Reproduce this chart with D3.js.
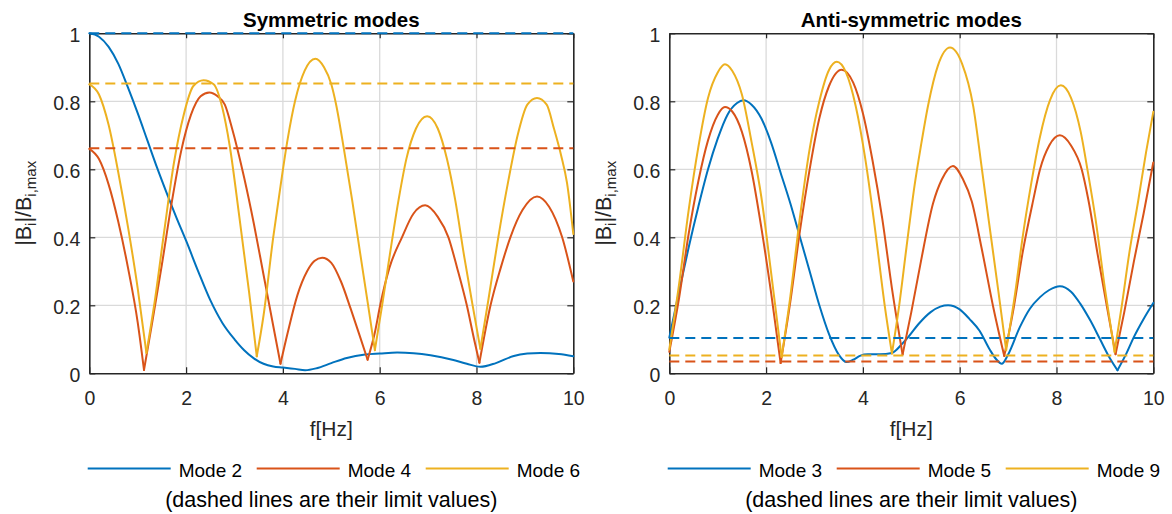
<!DOCTYPE html>
<html>
<head>
<meta charset="utf-8">
<script src="https://cdn.jsdelivr.net/npm/d3@7"></script>
<style>
  html, body { margin: 0; padding: 0; background: #fff; }
  svg { display: block; font-family: "Liberation Sans", Arial, Helvetica, sans-serif; }
</style>
</head>
<body>
<svg id="chart" width="1172" height="514"></svg>
<script>
// ---- Data: normalised amplitude |B_i|/B_i,max versus frequency f [Hz] ----
// Symmetric modes
const mode2 = [[0,1.0],[0.2,0.99],[0.4,0.96],[0.6,0.91],[0.8,0.84],[1.0,0.765],[1.2,0.685],[1.4,0.605],[1.6,0.53],[1.8,0.458],[2.0,0.39],[2.25,0.3],[2.5,0.215],[2.75,0.148],[3.0,0.1],[3.2,0.068],[3.4,0.044],[3.6,0.028],[3.8,0.02],[4.0,0.017],[4.25,0.013],[4.46,0.009],[4.7,0.015],[5.0,0.03],[5.32,0.045],[5.7,0.055],[6.0,0.058],[6.36,0.061],[6.7,0.059],[7.05,0.053],[7.5,0.04],[7.8,0.028],[8.08,0.019],[8.4,0.03],[8.77,0.051],[9.05,0.058],[9.32,0.06],[9.7,0.057],[10,0.05]];
const mode4 = [[0,0.66],[0.2,0.63],[0.4,0.555],[0.6,0.445],[0.8,0.31],[1.0,0.15],[1.13,0.01],[1.3,0.15],[1.5,0.32],[1.7,0.5],[1.9,0.655],[2.1,0.76],[2.3,0.815],[2.48,0.826],[2.65,0.815],[2.8,0.79],[2.95,0.72],[3.06,0.66],[3.2,0.575],[3.4,0.44],[3.6,0.29],[3.8,0.14],[3.95,0.028],[4.1,0.12],[4.3,0.23],[4.5,0.3],[4.65,0.33],[4.81,0.34],[5.0,0.325],[5.2,0.27],[5.4,0.19],[5.6,0.105],[5.75,0.04],[5.9,0.12],[6.01,0.2],[6.2,0.31],[6.46,0.4],[6.7,0.47],[6.94,0.494],[7.2,0.46],[7.42,0.4],[7.6,0.31],[7.8,0.2],[7.95,0.1],[8.06,0.031],[8.29,0.2],[8.5,0.31],[8.7,0.4],[8.95,0.48],[9.25,0.52],[9.5,0.49],[9.77,0.4],[10,0.27]];
const mode6 = [[0,0.85],[0.2,0.82],[0.4,0.73],[0.6,0.59],[0.8,0.43],[1.0,0.25],[1.18,0.06],[1.35,0.21],[1.55,0.42],[1.75,0.62],[1.95,0.76],[2.15,0.845],[2.36,0.862],[2.57,0.85],[2.75,0.78],[2.9,0.67],[3.1,0.46],[3.3,0.24],[3.46,0.05],[3.6,0.17],[3.8,0.4],[3.95,0.55],[4.1,0.69],[4.25,0.8],[4.45,0.89],[4.67,0.925],[4.85,0.9],[5.0,0.85],[5.1,0.79],[5.26,0.66],[5.43,0.51],[5.6,0.35],[5.75,0.21],[5.9,0.068],[6.05,0.2],[6.2,0.34],[6.39,0.51],[6.55,0.63],[6.75,0.72],[6.98,0.756],[7.2,0.72],[7.39,0.63],[7.56,0.51],[7.75,0.34],[7.92,0.2],[8.08,0.072],[8.25,0.22],[8.45,0.4],[8.66,0.568],[8.85,0.7],[9.05,0.79],[9.25,0.81],[9.45,0.79],[9.6,0.72],[9.75,0.64],[9.87,0.56],[10,0.41]];
// Anti-symmetric modes
const mode3 = [[0,0.105],[0.2,0.24],[0.4,0.37],[0.6,0.49],[0.8,0.6],[1.0,0.69],[1.2,0.76],[1.4,0.795],[1.53,0.803],[1.7,0.79],[1.9,0.75],[2.1,0.68],[2.3,0.59],[2.5,0.5],[2.7,0.4],[2.9,0.3],[3.1,0.2],[3.3,0.115],[3.5,0.055],[3.66,0.033],[3.8,0.04],[3.95,0.052],[4.1,0.056],[4.35,0.056],[4.6,0.06],[4.8,0.085],[4.94,0.107],[5.15,0.145],[5.4,0.18],[5.6,0.196],[5.76,0.2],[6.0,0.188],[6.2,0.16],[6.41,0.125],[6.62,0.07],[6.75,0.042],[6.87,0.028],[7.0,0.055],[7.24,0.135],[7.45,0.19],[7.66,0.224],[7.85,0.245],[8.07,0.256],[8.3,0.24],[8.49,0.205],[8.7,0.155],[8.9,0.1],[9.1,0.045],[9.26,0.009],[9.45,0.06],[9.6,0.107],[9.8,0.16],[10,0.207]];
const mode5 = [[0,0.063],[0.2,0.22],[0.4,0.41],[0.6,0.565],[0.8,0.685],[1.0,0.76],[1.15,0.783],[1.3,0.77],[1.5,0.71],[1.7,0.595],[1.9,0.43],[2.1,0.24],[2.3,0.03],[2.5,0.21],[2.7,0.42],[2.9,0.6],[3.1,0.75],[3.3,0.845],[3.56,0.893],[3.8,0.855],[4.0,0.765],[4.2,0.625],[4.4,0.455],[4.6,0.25],[4.82,0.055],[5.0,0.18],[5.2,0.33],[5.45,0.5],[5.63,0.57],[5.86,0.61],[6.07,0.57],[6.25,0.505],[6.45,0.37],[6.7,0.19],[6.92,0.051],[7.1,0.18],[7.3,0.355],[7.52,0.51],[7.66,0.6],[7.85,0.67],[8.07,0.7],[8.3,0.67],[8.52,0.6],[8.66,0.509],[8.85,0.35],[9.05,0.19],[9.22,0.056],[9.4,0.18],[9.6,0.33],[9.8,0.47],[10,0.62]];
const mode9 = [[0,0.07],[0.2,0.26],[0.4,0.48],[0.6,0.665],[0.8,0.81],[1.0,0.885],[1.15,0.909],[1.3,0.89],[1.5,0.82],[1.7,0.68],[1.9,0.52],[2.1,0.3],[2.32,0.048],[2.5,0.225],[2.7,0.46],[2.9,0.66],[3.1,0.8],[3.3,0.892],[3.46,0.916],[3.65,0.885],[3.85,0.787],[4.05,0.63],[4.25,0.425],[4.45,0.2],[4.6,0.058],[4.75,0.2],[4.9,0.37],[5.07,0.555],[5.2,0.67],[5.35,0.79],[5.55,0.905],[5.8,0.958],[6.05,0.91],[6.28,0.785],[6.45,0.61],[6.6,0.45],[6.8,0.24],[6.96,0.068],[7.15,0.24],[7.3,0.4],[7.48,0.56],[7.65,0.69],[7.87,0.805],[8.09,0.847],[8.3,0.81],[8.5,0.71],[8.65,0.59],[8.8,0.46],[9.0,0.25],[9.2,0.063],[9.35,0.2],[9.5,0.35],[9.69,0.509],[9.85,0.65],[10,0.769]];

// Limit values (dashed lines), in series order
const symLimits  = [1.0, 0.662, 0.852];
const antiLimits = [0.104, 0.035, 0.052];

const symLabels  = ["Mode 2", "Mode 4", "Mode 6"];
const antiLabels = ["Mode 3", "Mode 5", "Mode 9"];

const xTicks = [0, 2, 4, 6, 8, 10];
const yTicks = [0, 0.2, 0.4, 0.6, 0.8, 1];

// ---- Layout & style ----
const colors = ["#0072BD", "#D95319", "#EDB120"];
const axisColor = "#262626";
const plotW = 484, plotH = 340, plotTop = 33.3;

const panels = [
  { title: "Symmetric modes",      left: 89.3,  series: [mode2, mode4, mode6], limits: symLimits,  labels: symLabels },
  { title: "Anti-symmetric modes", left: 669.3, series: [mode3, mode5, mode9], limits: antiLimits, labels: antiLabels }
];

const svg = d3.select("#chart");

// split a series into lobes at sharp minima so each lobe is smooth but the cusps stay pointed
function lobes(data) {
  const parts = [];
  let cur = [data[0]];
  for (let i = 1; i < data.length; i++) {
    cur.push(data[i]);
    if (i < data.length - 1) {
      const sL = (data[i][1] - data[i-1][1]) / (data[i][0] - data[i-1][0]);
      const sR = (data[i+1][1] - data[i][1]) / (data[i+1][0] - data[i][0]);
      if (sL < -0.15 && sR > 0.15) { parts.push(cur); cur = [data[i]]; }
    }
  }
  parts.push(cur);
  return parts;
}

panels.forEach(p => {
  const x = d3.scaleLinear().domain([0, 10]).range([0, plotW]);
  const y = d3.scaleLinear().domain([0, 1]).range([plotH, 0]);
  const g = svg.append("g").attr("transform", `translate(${p.left},${plotTop})`);

  // grid
  g.append("g").selectAll("line").data(xTicks.slice(1, -1)).join("line")
    .attr("x1", d => x(d)).attr("x2", d => x(d)).attr("y1", 0).attr("y2", plotH)
    .attr("stroke", "#dadada").attr("stroke-width", 1.3);
  g.append("g").selectAll("line").data(yTicks.slice(1, -1)).join("line")
    .attr("y1", d => y(d)).attr("y2", d => y(d)).attr("x1", 0).attr("x2", plotW)
    .attr("stroke", "#dadada").attr("stroke-width", 1.3);

  // axes (ticks pointing inward, box on)
  const fmt = d3.format("~g");
  const ax = [
    g.append("g").attr("transform", `translate(0,${plotH})`)
      .call(d3.axisBottom(x).tickValues(xTicks).tickFormat(fmt).tickSizeInner(-6).tickSizeOuter(0).tickPadding(18)),
    g.append("g")
      .call(d3.axisLeft(y).tickValues(yTicks).tickFormat(fmt).tickSizeInner(-6).tickSizeOuter(0).tickPadding(9)),
    g.append("g")
      .call(d3.axisTop(x).tickValues(xTicks).tickFormat("").tickSizeInner(-5).tickSizeOuter(0)),
    g.append("g").attr("transform", `translate(${plotW},0)`)
      .call(d3.axisRight(y).tickValues(yTicks).tickFormat("").tickSizeInner(-6).tickSizeOuter(0))
  ];
  ax.forEach(a => {
    a.select(".domain").attr("stroke", axisColor).attr("stroke-width", 1.6);
    a.selectAll(".tick line").attr("stroke", axisColor).attr("stroke-width", 1.2);
    a.selectAll(".tick text").attr("fill", axisColor)
      .style("font-size", "19.5px").style("font-family", "'Liberation Sans', Arial, sans-serif");
  });
  ax[1].selectAll(".tick text").attr("dy", "0.43em");

  // curves
  const line = d3.line().x(d => x(d[0])).y(d => y(d[1])).curve(d3.curveMonotoneX);
  p.series.forEach((s, i) => {
    const sg = g.append("g");
    lobes(s).forEach(part => {
      sg.append("path").attr("d", line(part)).attr("fill", "none")
        .attr("stroke", colors[i]).attr("stroke-width", 2)
        .attr("stroke-linecap", "round").attr("stroke-linejoin", "round");
    });
  });

  // limit values
  p.limits.forEach((v, i) => {
    g.append("line").attr("x1", x(0)).attr("x2", x(10)).attr("y1", y(v)).attr("y2", y(v))
      .attr("stroke", colors[i]).attr("stroke-width", 2).attr("stroke-dasharray", "10,6");
  });

  const cx = p.left + plotW / 2;

  // title
  svg.append("text").attr("x", cx).attr("y", 27.3).attr("text-anchor", "middle")
    .style("font-size", "20.5px").style("font-weight", "bold").attr("fill", "#000")
    .text(p.title);

  // y label with subscripts
  const yl = svg.append("text")
    .attr("transform", `translate(${p.left - 58},${plotTop + plotH / 2}) rotate(-90)`)
    .attr("text-anchor", "middle").attr("fill", axisColor).style("font-size", "21.5px");
  yl.append("tspan").text("|B");
  yl.append("tspan").attr("dy", 5).style("font-size", "15px").text("i");
  yl.append("tspan").attr("dy", -5).text("|/B");
  yl.append("tspan").attr("dy", 5).style("font-size", "15px").text("i,max");

  // x label
  svg.append("text").attr("x", cx).attr("y", 435.5).attr("text-anchor", "middle")
    .attr("fill", axisColor).style("font-size", "21px").text("f[Hz]");

  // legend
  p.labels.forEach((lab, i) => {
    const x0 = p.left - 1.6 + 169 * i;
    svg.append("line").attr("x1", x0).attr("x2", x0 + 83).attr("y1", 468.5).attr("y2", 468.5)
      .attr("stroke", colors[i]).attr("stroke-width", 2);
    svg.append("text").attr("x", x0 + 91).attr("y", 477.3).attr("fill", "#000")
      .style("font-size", "19px").text(lab);
  });

  svg.append("text").attr("x", cx).attr("y", 507).attr("text-anchor", "middle")
    .attr("fill", "#000").style("font-size", "21.5px")
    .text("(dashed lines are their limit values)");
});
</script>
</body>
</html>
